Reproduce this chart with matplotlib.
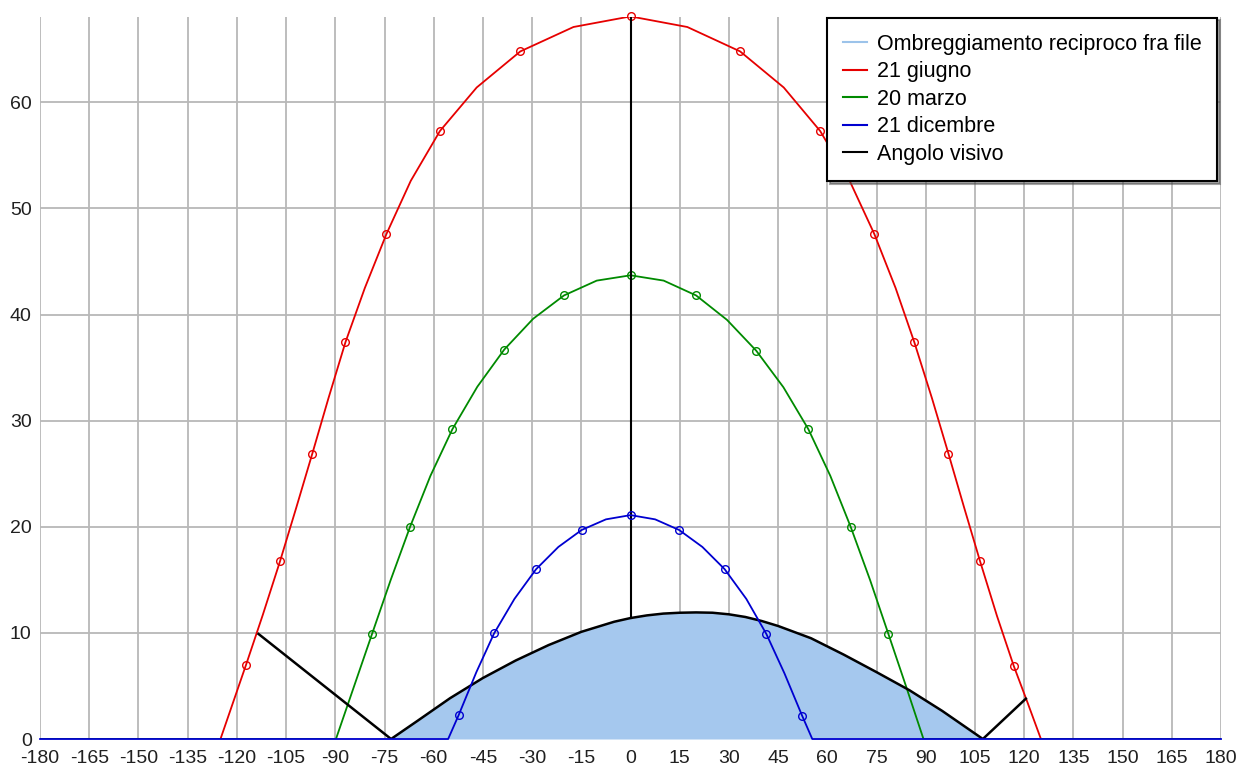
import matplotlib.pyplot as plt
from matplotlib.lines import Line2D

plt.rcParams['font.family'] = ['Liberation Sans', 'DejaVu Sans']
plt.rcParams['axes.unicode_minus'] = False

# 21 giugno (azimuth, elevation)
giugno_az = [-180, -125.0, -121.1, -117.2, -112.1, -106.8, -101.9, -97.0, -92.1, -86.9,
             -81.0, -74.4, -67.0, -58.1, -46.9, -33.6, -17.4, 0.0,
             17.3, 33.4, 46.7, 57.8, 66.8, 74.3, 80.8, 86.5, 91.9, 96.9,
             101.7, 106.5, 111.7, 116.8, 121.0, 125.1, 180]
giugno_el = [0, 0, 3.5, 7.0, 11.7, 16.8, 21.8, 26.9, 32.1, 37.4,
             42.5, 47.6, 52.6, 57.3, 61.4, 64.8, 67.1, 68.1,
             67.1, 64.8, 61.4, 57.3, 52.6, 47.6, 42.5, 37.4, 32.1, 26.9,
             21.8, 16.8, 11.6, 6.9, 3.45, 0, 0]
giugno_ore_az = [-117.2, -106.8, -97.0, -86.9, -74.4, -58.1, -33.6, 0.0,
                 33.4, 57.8, 74.3, 86.5, 96.9, 106.5, 116.8]
giugno_ore_el = [7.0, 16.8, 26.9, 37.4, 47.6, 57.3, 64.8, 68.1,
                 64.8, 57.3, 47.6, 37.4, 26.9, 16.8, 6.9]

# 20 marzo
marzo_az = [-180, -89.8, -84.3, -78.8, -73.1, -67.2, -61.0, -54.3, -46.7, -38.5,
            -29.7, -20.3, -10.3, 0.0, 10.1, 20.0, 29.4, 38.3, 46.6, 54.2,
            60.9, 67.1, 73.0, 78.6, 84.0, 89.3, 180]
marzo_el = [0, 0, 4.95, 9.9, 15.0, 20.0, 24.8, 29.2, 33.2, 36.7,
            39.6, 41.8, 43.2, 43.7, 43.2, 41.8, 39.5, 36.6, 33.15, 29.2,
            24.8, 20.0, 15.0, 9.9, 4.95, 0, 0]
marzo_ore_az = [-78.8, -67.2, -54.3, -38.5, -20.3, 0.0, 20.0, 38.3, 54.2, 67.1, 78.6]
marzo_ore_el = [9.9, 20.0, 29.2, 36.7, 41.8, 43.7, 41.8, 36.6, 29.2, 20.0, 9.9]

# 21 dicembre
dicembre_az = [-180, -55.6, -52.4, -47.0, -41.6, -35.4, -28.8, -22.0, -14.9, -7.5, 0.0,
               7.5, 14.8, 21.9, 28.7, 35.3, 41.4, 46.9, 52.3, 55.4, 180]
dicembre_el = [0, 0, 2.25, 6.3, 9.95, 13.2, 16.0, 18.1, 19.7, 20.7, 21.1,
               20.7, 19.7, 18.1, 16.0, 13.2, 9.9, 6.2, 2.2, 0, 0]
dicembre_ore_az = [-52.4, -41.6, -28.8, -14.9, 0.0, 14.8, 28.7, 41.4, 52.3]
dicembre_ore_el = [2.25, 9.95, 16.0, 19.7, 21.1, 19.7, 16.0, 9.9, 2.2]

# Angolo visivo / ombreggiamento reciproco fra file
angolo_az = [-113.4, -73.0, -65.0, -55.0, -45.0, -35.0, -25.0, -15.0, -5.0, 0.0,
             5.0, 10.0, 15.0, 20.0, 25.0, 30.0, 35.0, 40.0, 45.0, 55.0,
             65.0, 75.0, 85.0, 95.0, 107.4, 120.5]
angolo_el = [9.9, 0.0, 1.7, 3.85, 5.75, 7.4, 8.85, 10.1, 11.05, 11.4,
             11.65, 11.82, 11.9, 11.93, 11.9, 11.75, 11.5, 11.12, 10.65, 9.5,
             7.95, 6.3, 4.6, 2.65, 0.0, 3.8]
ombra_az = angolo_az[1:-1]
ombra_el = angolo_el[1:-1]
meridiano_az = [0.0, 0.0]
meridiano_el = [11.4, 68.1]

x_ticks = list(range(-180, 181, 15))
y_ticks = list(range(0, 61, 10))

c_red = '#e60000'
c_green = '#008a00'
c_blue = '#0000d0'
c_fill = '#a5c8ee'

fig = plt.figure(figsize=(12.4, 7.69), dpi=100)
ax = fig.add_axes([0.0323, 0.039, 0.9524, 0.939])

ax.fill_between(ombra_az, 0, ombra_el, color=c_fill, zorder=2, linewidth=0)

ax.plot(giugno_az, giugno_el, color=c_red, lw=1.3, zorder=3)
ax.plot(giugno_ore_az, giugno_ore_el, 'o', color=c_red, mfc='none', ms=5.5, mew=1.0,
        zorder=3, clip_on=False)
ax.plot(marzo_az, marzo_el, color=c_green, lw=1.3, zorder=3)
ax.plot(marzo_ore_az, marzo_ore_el, 'o', color=c_green, mfc='none', ms=5.5, mew=1.0, zorder=3)
ax.plot(angolo_az, angolo_el, color='black', lw=1.8, zorder=4)
ax.plot(meridiano_az, meridiano_el, color='black', lw=1.5, zorder=4)
ax.plot(dicembre_az, dicembre_el, color=c_blue, lw=1.3, zorder=5, clip_on=False)
ax.plot(dicembre_ore_az, dicembre_ore_el, 'o', color=c_blue, mfc='none', ms=5.5, mew=1.0, zorder=5)

ax.set_xlim(-180, 180)
ax.set_ylim(0, 68.05)
ax.set_xticks(x_ticks)
ax.set_yticks(y_ticks)
ax.grid(True, color='#b8b8b8', lw=1.3)
ax.set_axisbelow(True)
for s in ax.spines.values():
    s.set_visible(False)
ax.tick_params(axis='both', length=0, labelsize=14, colors='#202020')
ax.tick_params(axis='x', pad=8)
ax.tick_params(axis='y', pad=6)

handles = [
    Line2D([], [], color='#9cc3ea', lw=1.5),
    Line2D([], [], color=c_red, lw=1.5),
    Line2D([], [], color=c_green, lw=1.5),
    Line2D([], [], color=c_blue, lw=1.5),
    Line2D([], [], color='black', lw=1.5),
]
labels = ['Ombreggiamento reciproco fra file', '21 giugno', '20 marzo',
          '21 dicembre', 'Angolo visivo']
leg = ax.legend(handles, labels, loc='upper right', bbox_to_anchor=(0.997, 0.999),
                borderaxespad=0, fontsize=15.5, frameon=True, fancybox=False,
                shadow=True, handlelength=1.1, handletextpad=0.45,
                labelspacing=0.3, borderpad=0.75, framealpha=1)
leg.get_frame().set_edgecolor('black')
leg.get_frame().set_linewidth(1.5)
leg.set_zorder(10)

fig.savefig('out.png', dpi=100)
